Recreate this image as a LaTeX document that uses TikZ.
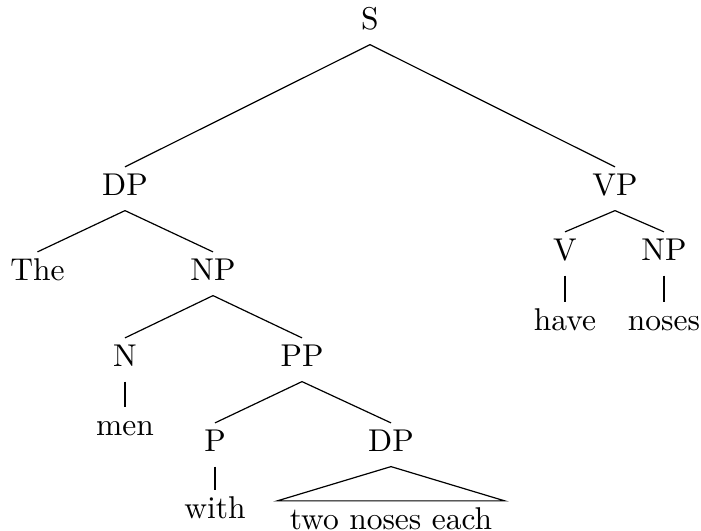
\documentclass[tikz,border=0pt]{standalone}
\usepackage{tikz}
\usetikzlibrary{calc}
\begin{document}
\begin{tikzpicture}[x=0.3333pt,y=-0.3333pt,font=\fontsize{10.5pt}{12.5pt}\selectfont]
\tikzset{cat/.style={anchor=base,inner sep=0pt,text height=7.17pt,text depth=0pt},
         branch/.style={line width=0.4pt,color=black}}
\def\dn{5pt}\def\up{2pt}\def\roof{4pt}
\useasboundingbox (0,0) rectangle (701,531);
% Categories
\node[cat] (s)   at (370,29)  {S};
\node[cat] (dp)  at (125,195) {DP};
\node[cat] (vp)  at (615,195) {VP};
\node[cat] (the) at (37.5,280) {The};
\node[cat] (np)  at (213,280) {NP};
\node[cat] (v)   at (565,260) {V};
\node[cat] (npv) at (664,260) {NP};
\node[cat] (n)   at (125,366) {N};
\node[cat] (pp)  at (302,366) {PP};
\node[cat] (p)   at (215,451) {P};
\node[cat] (dpp) at (391,451) {DP};
% Words
\node[cat] (have)  at (565,330) {have};
\node[cat] (noses) at (664,330) {noses};
\node[cat] (men)   at (125,435) {men};
\node[cat] (with)  at (215,518) {with};
\node[cat] (each)  at (391,529) {two noses each};
% Branches
\foreach \a/\b in {s/dp,s/vp,dp/the,dp/np,vp/v,vp/npv,np/n,np/pp,pp/p,pp/dpp,
                   v/have,npv/noses,n/men,p/with}
  \draw[branch] ([yshift=-\dn]\a.south) -- ([yshift=\up]\b.north);
% Roof over the DP
\draw[branch] ([yshift=-\dn]dpp.south)
  -- ([xshift=-\roof,yshift=\up]each.north west)
  -- ([xshift=\roof,yshift=\up]each.north east) -- cycle;
\end{tikzpicture}
\end{document}
